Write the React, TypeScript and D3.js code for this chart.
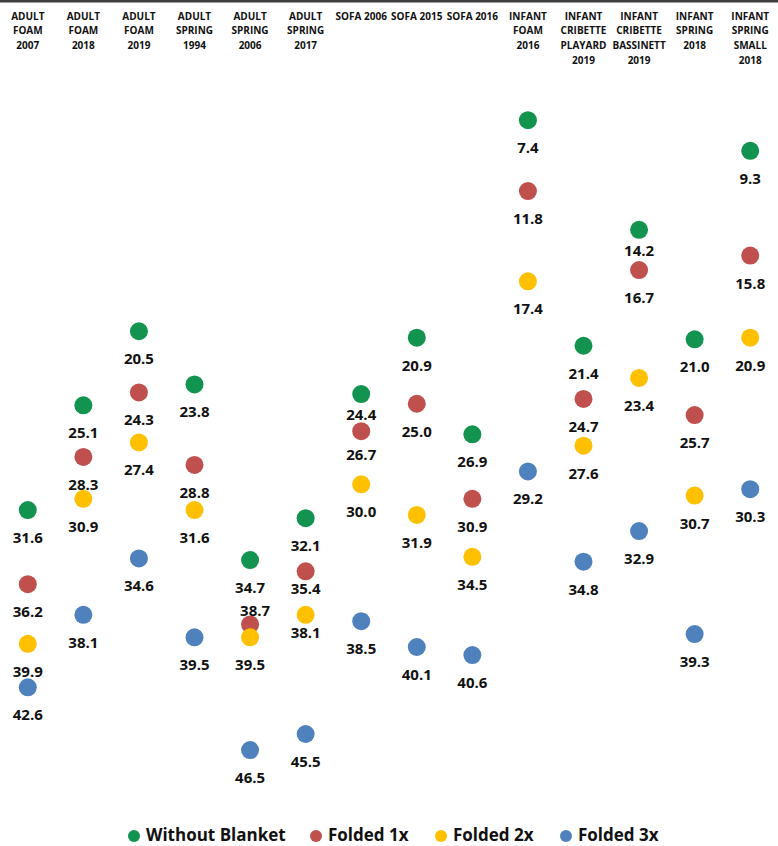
import React, { useEffect, useRef } from 'react';
import * as d3 from 'd3';

// Categories, as shown on the top axis (one entry per text line)
const categories: string[][] = [
  ['ADULT', 'FOAM', '2007'],
  ['ADULT', 'FOAM', '2018'],
  ['ADULT', 'FOAM', '2019'],
  ['ADULT', 'SPRING', '1994'],
  ['ADULT', 'SPRING', '2006'],
  ['ADULT', 'SPRING', '2017'],
  ['SOFA 2006'],
  ['SOFA 2015'],
  ['SOFA 2016'],
  ['INFANT', 'FOAM', '2016'],
  ['INFANT', 'CRIBETTE', 'PLAYARD', '2019'],
  ['INFANT', 'CRIBETTE', 'BASSINETT', '2019'],
  ['INFANT', 'SPRING', '2018'],
  ['INFANT', 'SPRING', 'SMALL', '2018'],
];

const withoutBlanket = [31.6, 25.1, 20.5, 23.8, 34.7, 32.1, 24.4, 20.9, 26.9, 7.4, 21.4, 14.2, 21.0, 9.3];
const folded1x = [36.2, 28.3, 24.3, 28.8, 38.7, 35.4, 26.7, 25.0, 30.9, 11.8, 24.7, 16.7, 25.7, 15.8];
const folded2x = [39.9, 30.9, 27.4, 31.6, 39.5, 38.1, 30.0, 31.9, 34.5, 17.4, 27.6, 23.4, 30.7, 20.9];
const folded3x = [42.6, 38.1, 34.6, 39.5, 46.5, 45.5, 38.5, 40.1, 40.6, 29.2, 34.8, 32.9, 39.3, 30.3];

const series = [
  { name: 'Without Blanket', values: withoutBlanket, color: '#12934f' },
  { name: 'Folded 1x', values: folded1x, color: '#c0504d' },
  { name: 'Folded 2x', values: folded2x, color: '#ffc000' },
  { name: 'Folded 3x', values: folded3x, color: '#4f81bd' },
];

// Hand-moved data labels (series index - category index) : [dx, dy]
const labelNudge: Record<string, [number, number]> = {
  '0-11': [0, -7],
  '0-6': [0, -7],
  '1-6': [0, -4],
  '1-5': [0, -10],
  '2-5': [0, -10],
  '1-4': [5, -41],
};

const legendX = [134, 316, 441, 566];

function App() {
  const ref = useRef<SVGSVGElement>(null);

  useEffect(() => {
    document.body.style.margin = '0';
    const width = 778;
    const svg = d3.select(ref.current);
    svg.selectAll('*').remove();

    const font = '"Open Sans", Lato, sans-serif';
    const keys = categories.map(c => c.join(' '));

    const x = d3.scaleBand<string>().domain(keys).range([0, width]);
    const y = d3.scaleLinear().domain([0, 50]).range([1, 806.5]);
    const cx = (i: number) => (x(keys[i]) as number) + x.bandwidth() / 2;

    // top border line
    svg.append('rect')
      .attr('x', 0).attr('y', 0)
      .attr('width', width).attr('height', 2.5)
      .attr('fill', '#3f3f3f');

    // category labels at the top
    const head = svg.append('g')
      .attr('font-family', font)
      .attr('font-weight', 700)
      .attr('font-size', 10)
      .attr('fill', '#111')
      .attr('text-anchor', 'middle');
    categories.forEach((lines, i) => {
      const t = head.append('text').attr('x', cx(i)).attr('y', 19.5);
      lines.forEach((line, j) => {
        t.append('tspan')
          .attr('x', cx(i))
          .attr('dy', j === 0 ? 0 : 14.7)
          .text(line);
      });
    });

    // dots and labels
    series.forEach((s, si) => {
      const g = svg.append('g');
      g.selectAll('circle')
        .data(s.values)
        .enter().append('circle')
        .attr('cx', (d, i) => cx(i))
        .attr('cy', d => y(d))
        .attr('r', 9)
        .attr('fill', s.color);

      g.selectAll('text')
        .data(s.values)
        .enter().append('text')
        .attr('x', (d, i) => cx(i) + (labelNudge[`${si}-${i}`]?.[0] ?? 0))
        .attr('y', (d, i) => y(d) + 33 + (labelNudge[`${si}-${i}`]?.[1] ?? 0))
        .attr('text-anchor', 'middle')
        .attr('font-family', font)
        .attr('font-weight', 700)
        .attr('font-size', 15)
        .attr('fill', '#111')
        .text(d => d.toFixed(1));
    });

    // legend
    const legend = svg.append('g');
    series.forEach((s, i) => {
      legend.append('circle')
        .attr('cx', legendX[i]).attr('cy', 836)
        .attr('r', 6)
        .attr('fill', s.color);
      legend.append('text')
        .attr('x', legendX[i] + 12).attr('y', 841)
        .attr('font-family', font)
        .attr('font-weight', 700)
        .attr('font-size', 17)
        .attr('fill', '#111')
        .text(s.name);
    });
  }, []);

  return (
    <svg ref={ref} width={778} height={846} style={{ display: 'block', background: '#fff' }}></svg>
  );
}

export default App;
